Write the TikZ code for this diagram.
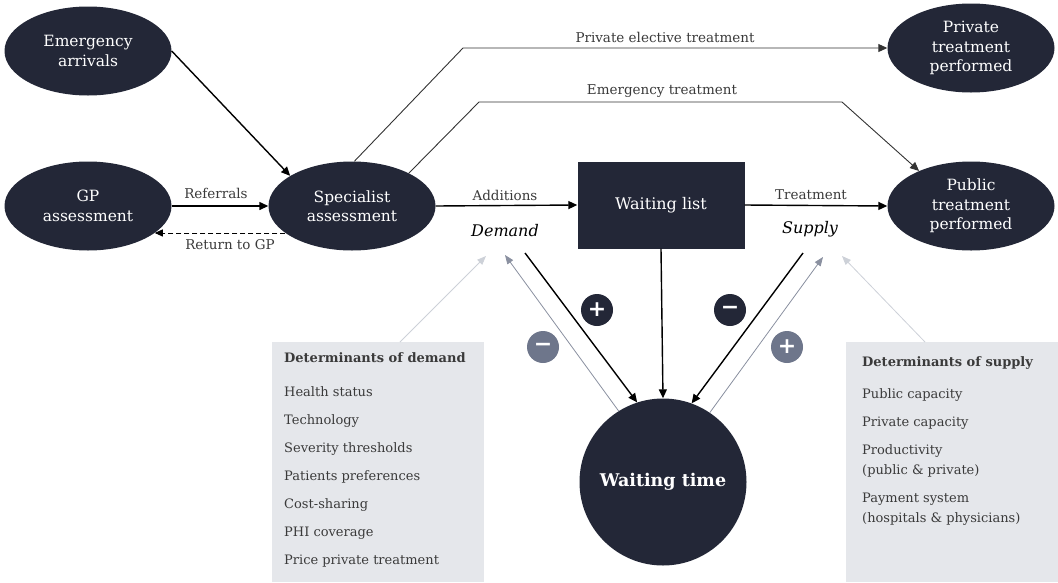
\documentclass[tikz,border=0pt]{standalone}
\usepackage{fontspec}
\setmainfont{DejaVu Serif}
\newfontfamily\symfont{DejaVu Sans}
\usetikzlibrary{shapes.geometric,arrows.meta}
\definecolor{navy}{HTML}{232737}
\definecolor{badgegray}{HTML}{6E768B}
\definecolor{midgray}{HTML}{8A90A0}
\definecolor{palegray}{HTML}{CDD1D8}
\definecolor{boxfill}{HTML}{E5E7EB}
\definecolor{labelgray}{HTML}{3A3A3A}
\definecolor{routegray}{HTML}{333333}
\begin{document}
\begin{tikzpicture}[x=1pt,y=-1pt,
  ell/.style={fill=navy, text=white, ellipse, minimum width=167pt, minimum height=89pt, inner sep=0pt, align=center, font=\fontsize{15.5}{19.5}\selectfont},
  lbl/.style={text=labelgray, inner sep=0pt, font=\fontsize{13.5}{16}\selectfont},
  emph/.style={text=black, inner sep=0pt, font=\itshape\fontsize{16}{18}\selectfont},
  mainarr/.style={line width=1.4pt, draw=black, -{Triangle[length=9pt,width=8pt]}},
  routearr/.style={line width=0.9pt, draw=routegray, -{Triangle[length=9pt,width=8pt]}},
  dasharr/.style={line width=0.9pt, draw=black, dash pattern=on 5pt off 3pt, -{Triangle[length=8pt,width=7pt]}},
  grayarr/.style={line width=0.8pt, draw=midgray, -{Triangle[length=9pt,width=7pt]}, color=midgray},
  palearr/.style={line width=0.8pt, draw=palegray, -{Triangle[length=9pt,width=7pt]}, color=palegray},
  badge/.style={circle, minimum size=32pt, inner sep=0pt, text=white, font=\symfont\bfseries\fontsize{22}{22}\selectfont},
  dettext/.style={inner sep=0pt, align=left, anchor=north west, text=labelgray, font=\fontsize{13}{20}\selectfont}
]
\useasboundingbox (0,0) rectangle (1058,582);

% grey determinant boxes
\fill[boxfill] (272,342) rectangle (484,582);
\fill[boxfill] (846,342) rectangle (1058,582);

% nodes
\node[ell] (emerg) at (88,51) {Emergency\\arrivals};
\node[ell] (gp) at (88,206) {GP\\assessment};
\node[ell] (spec) at (352,206) {Specialist\\assessment};
\node[fill=navy, text=white, minimum width=167pt, minimum height=87pt, inner sep=0pt, font=\fontsize{16}{19}\selectfont] (wl) at (661,205) {Waiting list};
\node[ell] (priv) at (971,48) {Private\\treatment\\performed};
\node[ell] (pub) at (971,206) {Public\\treatment\\performed};
\node[circle, fill=navy, text=white, minimum size=167pt, inner sep=0pt, font=\bfseries\fontsize{17.5}{20}\selectfont] (wt) at (663,482) {Waiting time};

% labels
\node[lbl] (lpe) at (665,37) {Private elective treatment};
\node[lbl] (let) at (662,91) {Emergency treatment};
\node[lbl] (lref) at (216,193) {Referrals};
\node[lbl] (lret) at (230,245) {Return to GP};
\node[lbl] (ladd) at (505,195) {Additions};
\node[lbl] (ltr) at (811,195) {Treatment};
\node[emph] (ldem) at (505,231) {Demand};
\node[emph] (lsup) at (810,229) {Supply};

% determinant texts
\node[dettext] (dd) at (284,352) {\textbf{Determinants of demand}\\[14pt]
Health status\\[8pt]
Technology\\[8pt]
Severity thresholds\\[8pt]
Patients preferences\\[8pt]
Cost-sharing\\[8pt]
PHI coverage\\[8pt]
Price private treatment};
\node[dettext] (ds) at (862,356) {\textbf{Determinants of supply}\\[12pt]
Public capacity\\[8pt]
Private capacity\\[8pt]
Productivity\\(public \& private)\\[8pt]
Payment system\\(hospitals \& physicians)};

% coordinates
\coordinate (pe) at (463,48);
\coordinate (et1) at (479,102);
\coordinate (et2) at (842,102);
\coordinate (dA) at (525,253);
\coordinate (dB) at (505,255);
\coordinate (dC) at (486,256);
\coordinate (dS) at (400,342);
\coordinate (sA) at (803,253);
\coordinate (sB) at (823,257);
\coordinate (sC) at (842,256);
\coordinate (sS) at (925,342);

% connectors
\draw[mainarr] (emerg.east) -- (spec.154);
\draw[mainarr] (gp.east) -- (spec.west);
\draw[dasharr] (spec.202) -- (gp.338);
\draw[routearr] (spec.87) -- (pe) -- (pe -| priv.west);
\draw[routearr] (spec.30) -- (et1) -- (et2) -- (pub.146);
\draw[mainarr] (spec.east) -- (wl.west);
\draw[mainarr] (wl.east) -- (pub.west);
\draw[mainarr] (wl.south) -- (wt.north);
\draw[mainarr] (dA) -- (wt.108);
\draw[mainarr] (sA) -- (wt.70);
\draw[grayarr] (wt.122) -- (dB);
\draw[grayarr] (wt.56) -- (sB);
\draw[palearr] (dS) -- (dC);
\draw[palearr] (sS) -- (sC);

% badges
\node[badge, fill=navy] (b1) at (597,310) {+};
\node[badge, fill=badgegray] (b2) at (543,347) {−};
\node[badge, fill=navy] (b3) at (730,310) {−};
\node[badge, fill=badgegray] (b4) at (787,347) {+};
\end{tikzpicture}
\end{document}
